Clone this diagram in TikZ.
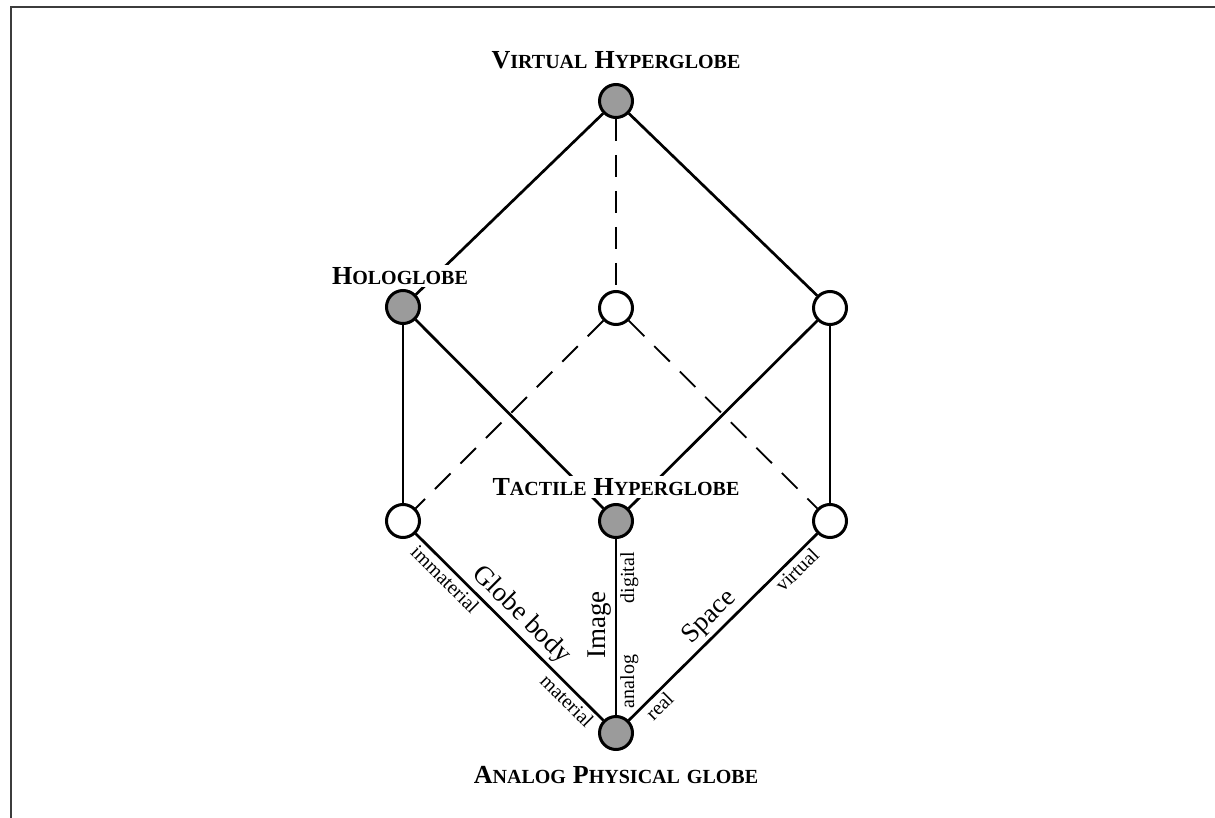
\documentclass[tikz,border=0pt]{standalone}
\usepackage{fontspec}
\setmainfont{Liberation Serif}
\newcommand{\BigC}[1]{{\fontsize{26}{26}\selectfont #1}}
\newcommand{\SmC}[1]{{\fontsize{20}{20}\selectfont #1}}
\newcommand{\WSp}{\hspace{7pt}}
\definecolor{nodegray}{RGB}{155,155,155}
\definecolor{framegray}{RGB}{60,60,60}
\begin{document}
\begin{tikzpicture}[x=1pt,y=-1pt,
  vtx/.style={circle,draw=black,line width=3pt,minimum size=33pt,inner sep=0pt},
  gvtx/.style={vtx,fill=nodegray},
  wvtx/.style={vtx,fill=white},
  edge/.style={line width=2.7pt},
  dedge/.style={line width=1.8pt,dash pattern=on 22pt off 14pt},
  lbl/.style={fill=white,inner sep=2pt,font=\bfseries},
  big/.style={font=\fontsize{27}{27}\selectfont,inner sep=3pt},
  small/.style={font=\fontsize{20}{20}\selectfont,inner sep=3pt}]
\useasboundingbox (0,0) rectangle (1215,818);
\draw[framegray,line width=2.2pt] (11,818) -- (11,7) -- (1215,7);

\node[gvtx] (top) at (616,101) {};
\node[gvtx] (holo) at (403,307) {};
\node[wvtx] (back) at (616,308) {};
\node[wvtx] (ru) at (830,308) {};
\node[wvtx] (bl) at (403,521) {};
\node[gvtx] (tac) at (616,521) {};
\node[wvtx] (br) at (830,521) {};
\node[gvtx] (bot) at (616,733) {};

\draw[dedge] (top) -- (back);
\draw[dedge] (back) -- (bl);
\draw[dedge] (back) -- (br);

\draw[edge] (top) -- (holo);
\draw[edge] (top) -- (ru);
\draw[edge] (holo) -- (bl);
\draw[edge] (holo) -- (tac);
\draw[edge] (ru) -- (tac);
\draw[edge] (ru) -- (br);
\draw[edge] (bl) -- node[pos=0.5,sloped,above,big] {Globe body}
                   node[pos=0.2,sloped,below,small] {immaterial}
                   node[pos=0.85,sloped,below,small] {material} (bot);
\draw[edge] (bot) -- node[pos=0.51,sloped,above,big] {Image}
                    node[pos=0.78,sloped,below,small] {digital}
                    node[pos=0.19,sloped,below,small] {analog} (tac);
\draw[edge] (bot) -- node[pos=0.49,sloped,above,big] {Space}
                    node[pos=0.12,sloped,below,small] {real}
                    node[pos=0.85,sloped,below,small] {virtual} (br);

\node[lbl] (ltop) at (616,60) {\BigC{V}\SmC{IRTUAL}\WSp\BigC{H}\SmC{YPERGLOBE}};
\node[lbl] (lholo) at (400,276) {\BigC{H}\SmC{OLOGLOBE}};
\node[lbl] (ltac) at (616,487) {\BigC{T}\SmC{ACTILE}\WSp\BigC{H}\SmC{YPERGLOBE}};
\node[lbl] (lbot) at (616,775) {\BigC{A}\SmC{NALOG}\WSp\BigC{P}\SmC{HYSICAL}\WSp\SmC{GLOBE}};
\end{tikzpicture}
\end{document}
